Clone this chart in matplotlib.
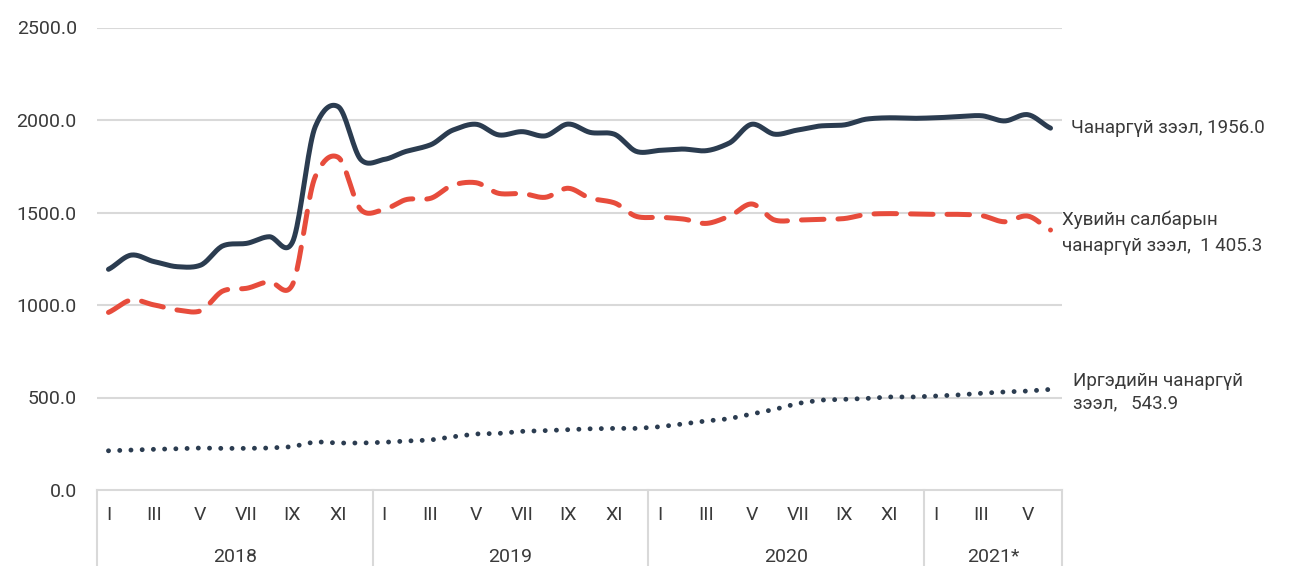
import numpy as np
import matplotlib
matplotlib.use("Agg")
import matplotlib.pyplot as plt
from matplotlib import transforms

plt.rcParams['font.family'] = ['Roboto', 'DejaVu Sans']

# --- data (сая төгрөг), 2018.I - 2021.VI ---
years = ['2018', '2019', '2020', '2021*']
months_per_year = [12, 12, 12, 6]
month_labels = ['I', '', 'III', '', 'V', '', 'VII', '', 'IX', '', 'XI', '']

chanargui = [1193, 1270, 1234, 1207, 1215, 1321, 1333, 1369, 1338, 1964, 2072, 1784,
             1787, 1832, 1865, 1946, 1977, 1919, 1937, 1914, 1978, 1932, 1924, 1829,
             1836, 1843, 1834, 1874, 1977, 1923, 1946, 1968, 1973, 2005, 2012, 2009,
             2012, 2018, 2023, 1995, 2029, 1956.0]
huviin = [960, 1027, 1000, 973, 968, 1077, 1090, 1126, 1108, 1694, 1798, 1513,
          1517, 1571, 1576, 1649, 1661, 1603, 1603, 1582, 1631, 1576, 1553, 1478,
          1474, 1465, 1441, 1478, 1546, 1459, 1459, 1463, 1467, 1490, 1494, 1492,
          1490, 1490, 1483, 1450, 1481, 1405.3]
irgediin = [212, 216, 220, 223, 227, 225, 225, 227, 234, 261, 254, 254,
            258, 265, 270, 288, 303, 306, 317, 321, 326, 331, 333, 333,
            342, 357, 373, 385, 411, 436, 468, 486, 490, 495, 503, 503,
            508, 514, 523, 530, 535, 543.9]

label_chanargui = 'Чанаргүй зээл, 1956.0'
label_huviin = 'Хувийн салбарын\nчанаргүй зээл,  1 405.3'
label_irgediin = 'Иргэдийн чанаргүй\nзээл,   543.9'


def smooth(y, n=20, k=0.8):
    # cubic Hermite curve through the points, like Excel's smoothed line
    y = np.asarray(y, dtype=float)
    p = np.concatenate([[2 * y[0] - y[1]], y, [2 * y[-1] - y[-2]]])
    xs, ys = [], []
    t = np.linspace(0, 1, n, endpoint=False)
    h00 = 2 * t ** 3 - 3 * t ** 2 + 1
    h10 = t ** 3 - 2 * t ** 2 + t
    h01 = -2 * t ** 3 + 3 * t ** 2
    h11 = t ** 3 - t ** 2
    for i in range(1, len(p) - 2):
        m1 = k * 0.5 * (p[i + 1] - p[i - 1])
        m2 = k * 0.5 * (p[i + 2] - p[i])
        seg = h00 * p[i] + h10 * m1 + h01 * p[i + 1] + h11 * m2
        xs.extend(i - 1 + t)
        ys.extend(seg)
    xs.append(len(y) - 1)
    ys.append(y[-1])
    return np.array(xs), np.array(ys)


dark = '#2b3c50'
red = '#e74c3c'
grey = '#d9d9d9'
txt = '#3a3a3a'
fs = 14

fig = plt.figure(figsize=(12.91, 5.66), dpi=100)
ax = fig.add_axes([97 / 1291, 76 / 566, 965 / 1291, 462.5 / 566])

x = np.arange(len(chanargui))
sx, sy = smooth(chanargui)
ax.plot(sx, sy, color=dark, lw=3.6, solid_capstyle='round', zorder=3)
sx, sy = smooth(huviin)
ax.plot(sx, sy, color=red, lw=3.6, dashes=(4.5, 2.8), dash_capstyle='round', zorder=3)
ax.plot(x, irgediin, color=dark, lw=3.5, linestyle=(0, (0.01, 2.3)),
        dash_capstyle='round', zorder=3)

ax.set_xlim(-0.5, len(chanargui) - 0.5)
ax.set_ylim(0, 2500)
ax.set_yticks(np.arange(0, 2501, 500))
ax.set_yticklabels([f'{v:.1f}' for v in np.arange(0, 2501, 500)], fontsize=fs, color=txt)
ax.tick_params(axis='y', length=0, pad=14.5)
ax.set_xticks([])
for v in range(500, 2501, 500):
    ax.axhline(v, color=grey, lw=1.5, zorder=1)

for s in ['top', 'right', 'left']:
    ax.spines[s].set_visible(False)
ax.spines['bottom'].set_color(grey)
ax.spines['bottom'].set_linewidth(1.5)

# grouped x axis: months and years
trans = transforms.blended_transform_factory(ax.transData, ax.transAxes)
start = 0
bounds = [-0.5]
for yr, n in zip(years, months_per_year):
    for k in range(n):
        lab = month_labels[k]
        if lab:
            ax.text(start + k, -0.055, lab, transform=trans, ha='center', va='center',
                    fontsize=fs, color=txt)
    ax.text(start + (n - 1) / 2, -0.145, yr, transform=trans, ha='center', va='center',
            fontsize=fs, color=txt)
    start += n
    bounds.append(start - 0.5)
for b in bounds:
    ax.plot([b, b], [0, -0.2], transform=trans, color=grey, lw=1.5, clip_on=False)

# right-hand labels
ax.text(len(chanargui) - 0.1, 1956, label_chanargui, ha='left', va='center',
        fontsize=13.5, color=txt, clip_on=False)
ax.text(len(chanargui) - 0.5, 1392, label_huviin, ha='left', va='center',
        fontsize=13.5, color=txt, clip_on=False, linespacing=1.6)
ax.text(len(chanargui) + 0.0, 530, label_irgediin, ha='left', va='center',
        fontsize=13.5, color=txt, clip_on=False, linespacing=1.35)

fig.savefig('out.png', dpi=100)
